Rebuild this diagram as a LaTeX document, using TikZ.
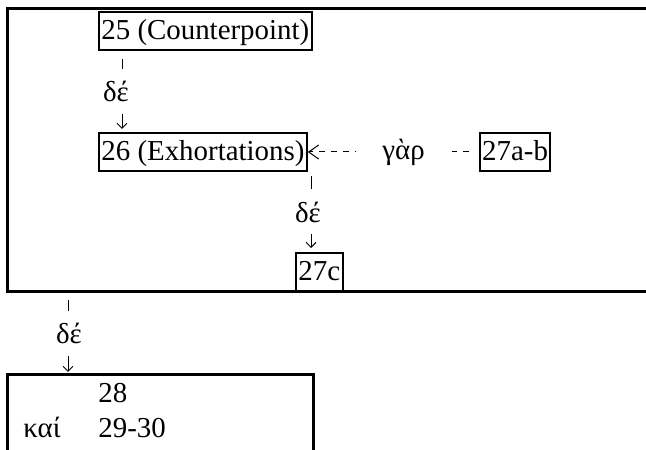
\documentclass[tikz,border=0pt]{standalone}
\usepackage{fontspec}
\setmainfont{Liberation Serif}
\newfontfamily\diagface{Liberation Serif}
\usetikzlibrary{arrows.meta,positioning}
\newcommand{\diagfont}{\diagface\fontsize{14.5}{17}\selectfont}

\begin{document}
\begin{tikzpicture}[
    x=0.5bp, y=-0.5bp,
    sect/.style={draw, line width=1bp, inner xsep=1.2bp, inner ysep=1bp, text height=13bp, text depth=4bp, font=\diagfont},
    grp/.style={draw, line width=1.5bp, inner sep=0pt, outer sep=0pt},
    txt/.style={inner sep=0pt, font=\diagfont},
    lbl/.style={fill=white, inner sep=0pt, minimum height=22.5bp, font=\diagfont},
    conn/.style={line width=0.5bp, -{Straight Barb[length=2.5bp,width=5bp]}},
    dashconn/.style={line width=0.5bp, dash pattern=on 3bp off 3bp, -{Straight Barb[length=5bp,width=7bp]}}
  ]
  \useasboundingbox (0,0) rectangle (646,450);
  \clip (0,0) rectangle (646,450);

  % outer group and lower block, both run past the edge
  \node[grp, anchor=north west, minimum width=330bp, minimum height=141bp] (grp) at (7,9) {};
  \node[grp, anchor=north west, minimum width=153bp, minimum height=100bp] (blk) at (7,375) {};

  \node[sect, anchor=north west] (c25) at (98,11) {25 (Counterpoint)};
  \node[sect, anchor=north west] (c26) at (98,132) {26 (Exhortations)};
  \node[sect, right=85.5bp of c26] (c27ab) {27a-b};
  \node[sect, anchor=north west] (c27c) at (295,252) {27c};

  \node[txt, anchor=base west] (n28) at (98,403) {28};
  \node[txt, anchor=base west] (nkai) at (23,438) {καί};
  \node[txt, anchor=base west] (n2930) at (98,438) {29-30};

  \coordinate (k1) at (122,0);
  \coordinate (k2) at (311,0);
  \coordinate (k3) at (68,0);

  \draw[conn, shorten <=4bp, shorten >=1.5bp] (c25.south -| k1) -- node[lbl, xshift=-3bp] {δέ} (c26.north -| k1);
  \draw[conn, shorten <=2bp, shorten >=2bp] (c26.south -| k2) -- node[lbl, xshift=-1.5bp] {δέ} (c27c.north -| k2);
  \draw[conn, shorten <=4.5bp, shorten >=1.5bp] (grp.south -| k3) -- node[lbl, xshift=0.5bp] {δέ} (blk.north -| k3);
  \draw[dashconn, shorten <=5bp] (c27ab.west) -- node[lbl, pos=0.44, minimum width=48bp] {γὰρ} (c26.east);
\end{tikzpicture}
\end{document}
